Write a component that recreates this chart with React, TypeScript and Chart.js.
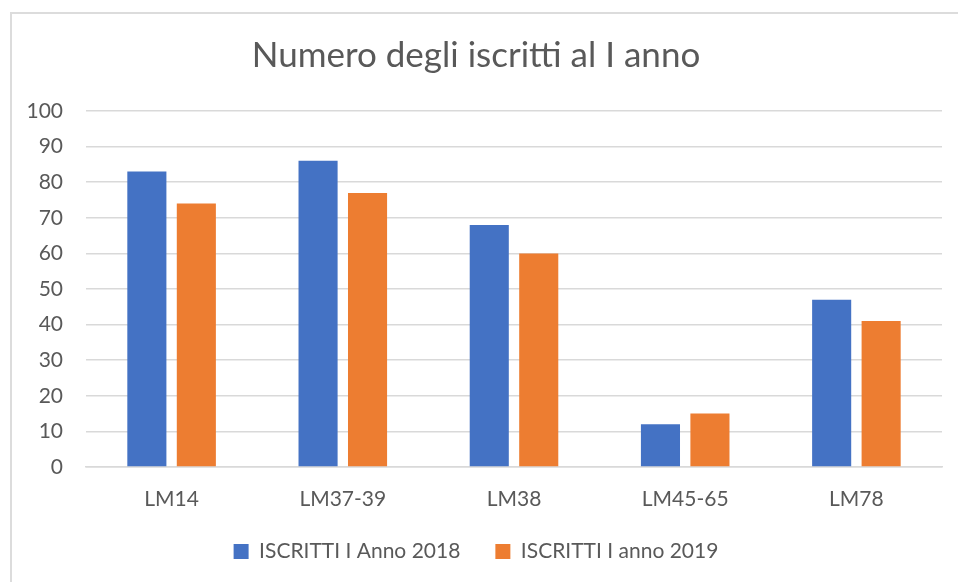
import React, { useEffect, useRef } from "react";
import { Chart, registerables } from "chart.js";

Chart.register(...registerables);

const categories = ["LM14", "LM37-39", "LM38", "LM45-65", "LM78"];
const series2018 = [83, 86, 68, 12, 47];
const series2019 = [74, 77, 60, 15, 41];
const label2018 = "ISCRITTI I Anno 2018";
const label2019 = "ISCRITTI I anno 2019";
const titleText = "Numero degli iscritti al I anno";

const FONT = "Lato, 'Open Sans', sans-serif";
const TEXT = "#595959";
const GRID = "#d9d9d9";

export default function App() {
  const ref = useRef<HTMLCanvasElement | null>(null);
  useEffect(() => {
    if (!ref.current) return;
    const chart = new Chart(ref.current, {
      type: "bar",
      data: {
        labels: categories,
        datasets: [
          {
            label: label2018,
            data: series2018,
            backgroundColor: "#4472C4",
            categoryPercentage: 0.578,
            barPercentage: 0.79,
          },
          {
            label: label2019,
            data: series2019,
            backgroundColor: "#ED7D31",
            categoryPercentage: 0.578,
            barPercentage: 0.79,
          },
        ],
      },
      options: {
        responsive: false,
        animation: false,
        layout: { padding: { left: 10, right: 16, top: 0, bottom: 10 } },
        plugins: {
          title: {
            display: true,
            text: titleText,
            color: TEXT,
            font: { family: FONT, size: 35, weight: "normal" },
            padding: { top: 35, bottom: 34 },
          },
          legend: {
            position: "bottom",
            labels: {
              color: TEXT,
              font: { family: FONT, size: 21 },
              boxWidth: 15,
              boxHeight: 15,
              padding: 35,
            },
          },
          tooltip: { enabled: false },
        },
        scales: {
          x: {
            grid: { display: false, drawTicks: false },
            border: { display: true, color: GRID, width: 1.5 },
            ticks: { color: TEXT, font: { family: FONT, size: 21 }, padding: 20 },
            afterFit: (s: any) => {
              s.height = 39;
            },
          },
          y: {
            min: 0,
            max: 100,
            ticks: { stepSize: 10, color: TEXT, font: { family: FONT, size: 21 }, padding: 23 },
            grid: { color: GRID, lineWidth: 1.5, drawTicks: false },
            border: { display: false },
            afterFit: (s: any) => {
              s.width = 76;
            },
          },
        },
      },
    });
    return () => chart.destroy();
  }, []);
  return (
    <div style={{ position: "fixed", left: 0, top: 0, width: 958, height: 582, background: "#fff", overflow: "hidden" }}>
      <div
        style={{
          position: "absolute",
          left: 10,
          top: 12,
          width: 1200,
          height: 1200,
          borderLeft: "2px solid #dcdcdc",
          borderTop: "2px solid #dcdcdc",
        }}
      />
      <canvas ref={ref} width={958} height={582} style={{ position: "absolute", left: 0, top: 0 }} />
    </div>
  );
}
